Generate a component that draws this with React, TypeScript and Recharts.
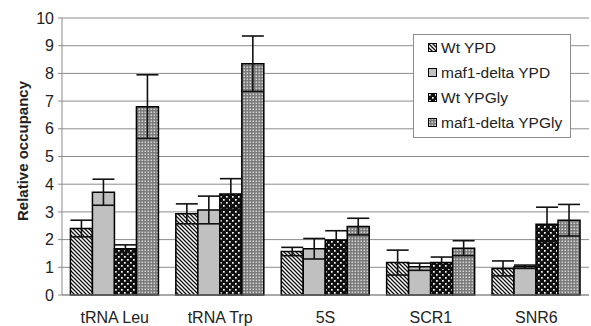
import React from 'react';
import { BarChart, Bar, XAxis, YAxis, CartesianGrid, ErrorBar, Legend } from 'recharts';

const categories = ['tRNA Leu', 'tRNA Trp', '5S', 'SCR1', 'SNR6'];
const wtYPD = [2.4, 2.93, 1.57, 1.17, 0.96];
const wtYPDErr = [0.3, 0.36, 0.15, 0.45, 0.27];
const maf1YPD = [3.71, 3.07, 1.67, 1.02, 1.02];
const maf1YPDErr = [0.47, 0.5, 0.37, 0.13, 0.06];
const wtYPGly = [1.67, 3.65, 1.99, 1.17, 2.55];
const wtYPGlyErr = [0.14, 0.55, 0.33, 0.2, 0.62];
const maf1YPGly = [6.8, 8.35, 2.47, 1.69, 2.7];
const maf1YPGlyErr = [1.15, 1.0, 0.3, 0.27, 0.57];
const yTicks = [0, 1, 2, 3, 4, 5, 6, 7, 8, 9, 10];

const seriesNames = ['Wt YPD', 'maf1-delta YPD', 'Wt YPGly', 'maf1-delta YPGly'];
const seriesFills = ['url(#pDiag)', '#c0c0c0', 'url(#pDots)', 'url(#pFine)'];

const data = categories.map((c, i) => ({
  name: c,
  wtYPD: wtYPD[i],
  wtYPDErr: wtYPDErr[i],
  maf1YPD: maf1YPD[i],
  maf1YPDErr: maf1YPDErr[i],
  wtYPGly: wtYPGly[i],
  wtYPGlyErr: wtYPGlyErr[i],
  maf1YPGly: maf1YPGly[i],
  maf1YPGlyErr: maf1YPGlyErr[i],
}));

const FONT = '"Liberation Sans", Arial, sans-serif';
const GRID = '#8c8c8c';

const renderLegend = () => (
  <div
    style={{
      width: 158,
      height: 104,
      border: '1px solid #8c8c8c',
      background: '#fff',
      boxSizing: 'border-box',
      fontFamily: FONT,
      fontSize: 15.5,
      color: '#222',
    }}
  >
    {seriesNames.map((n, i) => (
      <div key={n} style={{ display: 'flex', alignItems: 'center', height: 25, paddingLeft: 14 }}>
        <svg width={9} height={9} style={{ display: 'block' }}>
          <rect x={0.5} y={0.5} width={8} height={8} fill={seriesFills[i]} stroke="#000" strokeWidth={1} />
        </svg>
        <span style={{ marginLeft: 4, whiteSpace: 'nowrap' }}>{n}</span>
      </div>
    ))}
  </div>
);

const YLabel = () => (
  <text
    x={22}
    y={151}
    transform="rotate(-90 22 151)"
    textAnchor="middle"
    dominantBaseline="central"
    fontFamily={FONT}
    fontSize={15}
    fontWeight="bold"
    fill="#222"
  >
    Relative occupancy
  </text>
);

export default function App() {
  return (
    <div>
      <style>{'body{margin:0}'}</style>
      <BarChart
        width={591}
        height={326}
        data={data}
        margin={{ top: 18, right: 2, left: 0, bottom: 0 }}
        barCategoryGap="8%"
        barGap={0}
      >
        <defs>
          <pattern id="pDiag" patternUnits="userSpaceOnUse" width={4} height={4}>
            <rect width={4} height={4} fill="#fff" />
            <path d="M-1,-1 L5,5 M-1,3 L1,5 M3,-1 L5,1" stroke="#111" strokeWidth={1.3} />
          </pattern>
          <pattern id="pDots" patternUnits="userSpaceOnUse" width={6} height={6}>
            <rect width={6} height={6} fill="#111" />
            <rect x={1} y={1} width={1.7} height={1.7} fill="#fff" />
            <rect x={4} y={4} width={1.7} height={1.7} fill="#fff" />
          </pattern>
          <pattern id="pFine" patternUnits="userSpaceOnUse" width={3} height={3}>
            <rect width={3} height={3} fill="#777" />
            <rect x={0.5} y={0.5} width={1.6} height={1.6} fill="#d2d2d2" />
          </pattern>
        </defs>
        <CartesianGrid vertical={false} stroke={GRID} strokeWidth={1} />
        <XAxis
          dataKey="name"
          height={31}
          tickLine={false}
          tickSize={6}
          tickMargin={11}
          axisLine={{ stroke: GRID }}
          tick={{ fontSize: 16, fill: '#222', fontFamily: FONT }}
          interval={0}
        />
        <YAxis
          width={62}
          domain={[0, 10]}
          ticks={yTicks}
          interval={0}
          tickSize={4}
          tickMargin={4}
          axisLine={{ stroke: GRID }}
          tickLine={{ stroke: GRID }}
          tick={{ fontSize: 16, fill: '#222', fontFamily: FONT }}
          label={{ content: () => <YLabel /> }}
        />
        <Legend
          layout="vertical"
          align="center"
          verticalAlign="middle"
          content={renderLegend}
          wrapperStyle={{ top: 34, left: 413, width: 158, height: 104 }}
        />
        <Bar dataKey="wtYPD" name={seriesNames[0]} fill={seriesFills[0]} stroke="#000" strokeWidth={1.5} isAnimationActive={false}>
          <ErrorBar dataKey="wtYPDErr" width={11} stroke="#111" strokeWidth={1.6} />
        </Bar>
        <Bar dataKey="maf1YPD" name={seriesNames[1]} fill={seriesFills[1]} stroke="#000" strokeWidth={1.5} isAnimationActive={false}>
          <ErrorBar dataKey="maf1YPDErr" width={11} stroke="#111" strokeWidth={1.6} />
        </Bar>
        <Bar dataKey="wtYPGly" name={seriesNames[2]} fill={seriesFills[2]} stroke="#000" strokeWidth={1.5} isAnimationActive={false}>
          <ErrorBar dataKey="wtYPGlyErr" width={11} stroke="#111" strokeWidth={1.6} />
        </Bar>
        <Bar dataKey="maf1YPGly" name={seriesNames[3]} fill={seriesFills[3]} stroke="#000" strokeWidth={1.5} isAnimationActive={false}>
          <ErrorBar dataKey="maf1YPGlyErr" width={11} stroke="#111" strokeWidth={1.6} />
        </Bar>
      </BarChart>
    </div>
  );
}
